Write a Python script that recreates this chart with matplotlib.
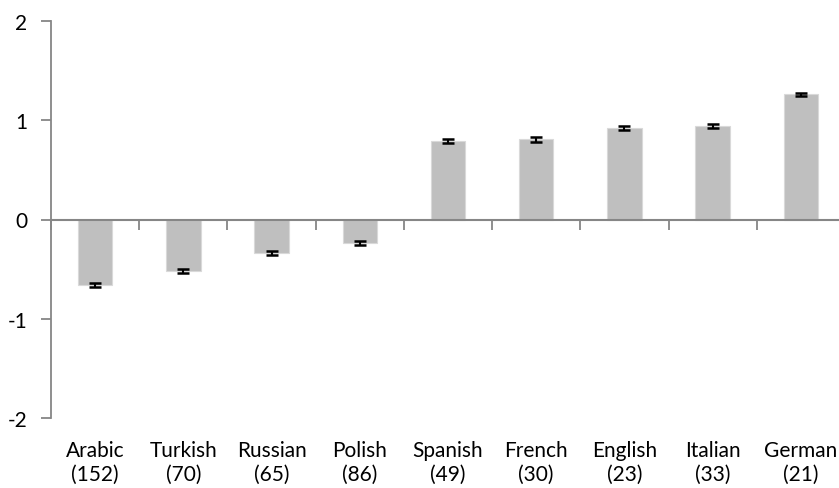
import numpy as np
import matplotlib.pyplot as plt

plt.rcParams['font.family'] = ['Lato', 'DejaVu Sans']

languages = ['Arabic', 'Turkish', 'Russian', 'Polish', 'Spanish',
             'French', 'English', 'Italian', 'German']
counts = [152, 70, 65, 86, 49, 30, 23, 33, 21]
means = [-0.66, -0.52, -0.34, -0.24, 0.79, 0.81, 0.92, 0.94, 1.26]
errors = [0.02, 0.02, 0.02, 0.02, 0.02, 0.025, 0.02, 0.02, 0.018]

axis_grey = '#868686'

fig = plt.figure(figsize=(8.39, 4.89), dpi=100)
ax = fig.add_axes([51/839, 1 - 419/489, 794/839, 397/489])

x = np.arange(len(languages))
ax.bar(x, means, width=0.39, color='#bfbfbf', edgecolor='#d9d9d9', linewidth=0.8)
ax.errorbar(x, means, yerr=errors, fmt='none', ecolor='black',
            elinewidth=1.5, capsize=4, capthick=1.8)

ax.set_xlim(-0.5, len(languages) - 0.5)
ax.set_ylim(-2, 2)
ax.set_yticks([-2, -1, 0, 1, 2])
ax.set_yticklabels(['-2', '-1', '0', '1', '2'])

labels = [f'{lang}\n({n})' for lang, n in zip(languages, counts)]
ax.set_xticks(x)
ax.set_xticklabels(labels, linespacing=1.45)
ax.set_xticks(np.arange(len(languages) + 1) - 0.5, minor=True)

# category axis sits at y = 0, labels stay at the bottom
ax.spines['bottom'].set_visible(False)
ax.spines['right'].set_visible(False)
ax.spines['top'].set_position(('data', 0))
ax.spines['top'].set_color(axis_grey)
ax.spines['top'].set_linewidth(1.5)
ax.spines['left'].set_color(axis_grey)
ax.spines['left'].set_linewidth(1.3)

ax.tick_params(axis='x', which='major', length=0, pad=16, labelsize=15, top=False)
ax.tick_params(axis='x', which='minor', bottom=False, top=True, direction='in',
               length=7, width=1.3, color=axis_grey)
ax.tick_params(axis='y', length=7, width=1.3, color=axis_grey, labelsize=15, pad=10)

plt.savefig('out.png', dpi=100)
